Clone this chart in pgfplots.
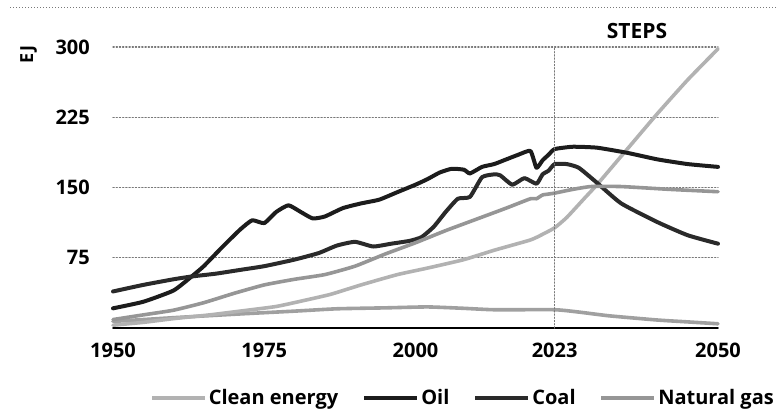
\documentclass[border=0pt]{standalone}
\usepackage{fontspec}
\setmainfont{Open Sans}
\usepackage{pgfplots}
\pgfplotsset{compat=1.18}

\definecolor{oilc}{RGB}{28,28,28}
\definecolor{coalc}{RGB}{42,42,42}
\definecolor{cleanc}{RGB}{178,178,178}
\definecolor{gasc}{RGB}{150,150,150}
\definecolor{otherc}{RGB}{160,160,160}
\definecolor{gridc}{RGB}{120,120,120}

\begin{document}
\begin{tikzpicture}[x=1pt,y=1pt]
\useasboundingbox (0,0) rectangle (776,411);
% frame line at the top
\draw[gridc, line width=1pt, dash pattern=on 1.2pt off 1.8pt] (10,403) -- (776,403);
% unit and scenario
\node[rotate=90, font=\bfseries\fontsize{18}{20}\selectfont] at (28.5,356.5) {EJ};
\node[font=\bfseries\fontsize{21}{24}\selectfont] at (637,380) {STEPS};

\begin{axis}[
    at={(113pt,83pt)}, anchor=south west,
    scale only axis, width=605pt, height=281pt,
    xmin=1950, xmax=2050, ymin=0, ymax=300,
    clip=false,
    axis x line*=bottom, axis y line*=left,
    x axis line style={-, black, line width=1.6pt},
    y axis line style={draw=none},
    xtick={1950,1975,2000,2023,2050},
    ytick={75,150,225,300},
    major tick length=0pt,
    ymajorgrids,
    grid style={gridc, line width=1.2pt, dash pattern=on 1.2pt off 2pt},
    /pgf/number format/1000 sep={},
    /pgf/number format/assume math mode=true,
    ticklabel style={font=\bfseries\fontsize{20}{24}\selectfont, inner sep=0pt},
    xticklabel style={anchor=north, yshift=-15pt},
    yticklabel style={anchor=east, xshift=-23pt},
    legend columns=4,
    legend style={at={(0.0612,-0.249)}, anchor=west, draw=none, fill=none,
        inner sep=0pt, font=\bfseries\fontsize{20}{24}\selectfont,
        nodes={inner sep=1pt},
        /tikz/every odd column/.append style={column sep=1pt},
        /tikz/every even column/.append style={column sep=23pt}},
    legend image code/.code={\draw[#1] (0pt,0pt) -- (53pt,0pt);},
    line join=round, line cap=round,
]

% traditional use, not listed in the legend
\addplot[otherc, line width=3.6pt, smooth, tension=0.3, forget plot] coordinates {
(1950,7) (1960,11) (1971,15) (1980,18) (1987,20.5) (1995,21.5) (2002,22.5)
(2008,21) (2013,19.5) (2023,19.5) (2027,17) (2032,13) (2040,8.5) (2045,6.5) (2050,4.5)
};

% clean energy
\addplot[cleanc, line width=3.6pt, smooth, tension=0.3] coordinates {
(1950,3) (1955,6) (1960,10) (1966,14) (1971,18) (1977,23) (1982,30) (1986,36)
(1991,46) (1997,57) (2002,64) (2008,73) (2013,83) (2019,94) (2021,100) (2023,107)
(2025,118) (2028,139) (2030,153) (2035,191) (2040,229) (2045,265) (2050,298)
};
\addlegendentry{Clean energy}

% oil
\addplot[oilc, line width=4pt, smooth, tension=0.3] coordinates {
(1950,21) (1955,28) (1960,40) (1963,55) (1965,66) (1968,86) (1971,105) (1973,115)
(1975,112) (1977,124) (1979,131) (1981,124) (1983,117) (1985,119) (1988,128)
(1991,133) (1994,137) (1997,145) (2000,153) (2002,159) (2004,166) (2006,170)
(2008,169) (2009,165) (2011,172) (2013,175) (2015,180) (2017,185) (2019,189)
(2020,171) (2021,179) (2022,185) (2023,191) (2026,193.5) (2030,192.5) (2035,187)
(2040,180) (2045,175) (2050,172)
};
\addlegendentry{Oil}

% coal
\addplot[coalc, line width=4pt, smooth, tension=0.3] coordinates {
(1950,39) (1955,46) (1960,52) (1963,55) (1967,58) (1971,62) (1975,66) (1980,73)
(1984,80) (1987,88) (1990,92) (1993,87) (1996,90) (1999,93) (2001,97) (2003,108)
(2005,124) (2007,138) (2009,140) (2011,161) (2013,164) (2014,163) (2016,153)
(2018,160) (2020,154) (2021,164) (2022,168) (2023,175) (2025,175) (2027,171)
(2030,155) (2034,133) (2040,113) (2045,99) (2050,90)
};
\addlegendentry{Coal}

% natural gas
\addplot[gasc, line width=3.6pt, smooth, tension=0.3] coordinates {
(1950,9) (1955,14) (1960,19) (1965,27) (1970,37) (1975,46) (1980,52) (1985,57)
(1990,66) (1995,79) (2000,91) (2005,104) (2010,116) (2015,128) (2019,138)
(2020,138) (2021,142) (2022,143) (2023,144) (2026,148) (2029,151) (2034,151)
(2042,148) (2050,145.5)
};
\addlegendentry{Natural gas}

% base year marker
\addplot[gridc, line width=1.2pt, dash pattern=on 1.2pt off 2pt, forget plot]
  coordinates {(2023,0) (2023,300)};
\end{axis}
\end{tikzpicture}
\end{document}
